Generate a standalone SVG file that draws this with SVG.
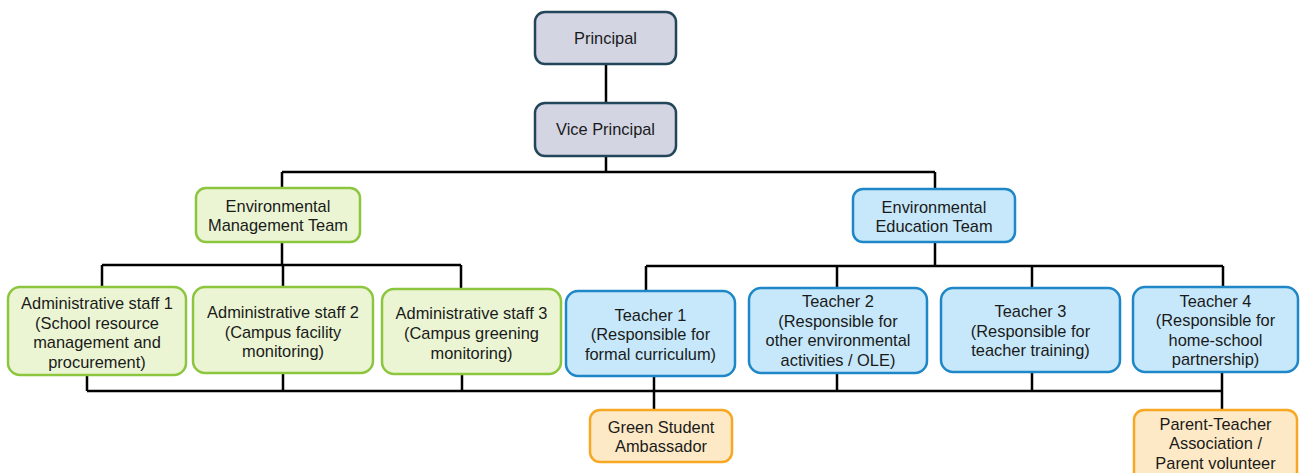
<svg xmlns="http://www.w3.org/2000/svg" width="1305" height="473" viewBox="0 0 1305 473">
<style>
text{font-family:"Liberation Sans",Arial,sans-serif;font-size:16.4px;fill:#1a1a1a;text-anchor:middle}
.top{fill:#d4d5e3;stroke:#23465a;stroke-width:2.5}
.grn{fill:#ebf5d3;stroke:#8cc63f;stroke-width:2.5}
.blu{fill:#c6e8fa;stroke:#1f87c8;stroke-width:2.5}
.org{fill:#fde9c6;stroke:#f7a823;stroke-width:2.5}
.conn path{fill:none;stroke:#000;stroke-width:2.5}
</style>
<rect width="1305" height="473" fill="#fff"/>
<g class="conn">
<path d="M606 64V103"/>
<path d="M606 156V172M282 172H935M282 172V188M935 172V189"/>
<path d="M282 242V265M102 265H461M102 265V287M283 265V287M461 265V289"/>
<path d="M935 242V266M646 266H1223M646 266V291M837 266V288M1032 266V288M1223 266V287"/>
<path d="M87 375V391M283 373V391M462 374V391M654 376V410M837 373V391M1032 372V391M1222 372V410M87 391H1222"/>
</g>
<g id="principal"><rect class="top" x="535" y="12" width="141" height="52" rx="10"/><text x="605.5" y="44">Principal</text></g>
<g id="vice"><rect class="top" x="535" y="103" width="141" height="53" rx="10"/><text x="605.5" y="135">Vice Principal</text></g>
<g id="emt"><rect class="grn" x="196" y="188" width="164" height="54" rx="10"/><text x="278" y="212">Environmental</text><text x="278" y="231">Management Team</text></g>
<g id="eet"><rect class="blu" x="853" y="189" width="162" height="53" rx="10"/><text x="934" y="213">Environmental</text><text x="934" y="232">Education Team</text></g>
<g id="admin1"><rect class="grn" x="8" y="287" width="178" height="88" rx="12"/><text x="97" y="309">Administrative staff 1</text><text x="97" y="328.5">(School resource</text><text x="97" y="348">management and</text><text x="97" y="367.5">procurement)</text></g>
<g id="admin2"><rect class="grn" x="193" y="287" width="180" height="86" rx="12"/><text x="283" y="318">Administrative staff 2</text><text x="283" y="337.5">(Campus facility</text><text x="283" y="357">monitoring)</text></g>
<g id="admin3"><rect class="grn" x="382" y="289" width="179" height="85" rx="12"/><text x="471.5" y="319">Administrative staff 3</text><text x="471.5" y="339">(Campus greening</text><text x="471.5" y="358.5">monitoring)</text></g>
<g id="teacher1"><rect class="blu" x="566" y="291" width="169" height="85" rx="12"/><text x="650.5" y="320.5">Teacher 1</text><text x="650.5" y="340">(Responsible for</text><text x="650.5" y="359.5">formal curriculum)</text></g>
<g id="teacher2"><rect class="blu" x="749" y="288" width="178" height="85" rx="12"/><text x="838" y="307">Teacher 2</text><text x="838" y="326.5">(Responsible for</text><text x="838" y="346">other environmental</text><text x="838" y="365.5">activities / OLE)</text></g>
<g id="teacher3"><rect class="blu" x="941" y="288" width="179" height="84" rx="12"/><text x="1030.5" y="317">Teacher 3</text><text x="1030.5" y="336.5">(Responsible for</text><text x="1030.5" y="356">teacher training)</text></g>
<g id="teacher4"><rect class="blu" x="1133" y="287" width="165" height="85" rx="12"/><text x="1215.5" y="306.5">Teacher 4</text><text x="1215.5" y="326">(Responsible for</text><text x="1215.5" y="345.5">home-school</text><text x="1215.5" y="365">partnership)</text></g>
<g id="gsa"><rect class="org" x="590" y="410" width="142" height="52" rx="10"/><text x="661" y="432.5">Green Student</text><text x="661" y="452">Ambassador</text></g>
<g id="pta"><rect class="org" x="1134" y="410" width="163" height="72" rx="10"/><text x="1215.5" y="429.5">Parent-Teacher</text><text x="1215.5" y="449">Association /</text><text x="1215.5" y="468.5">Parent volunteer</text></g>
</svg>
